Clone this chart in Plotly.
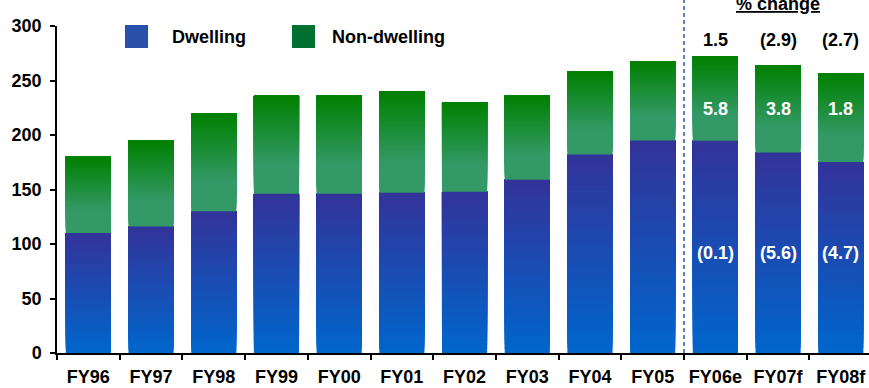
import plotly.graph_objects as go

# Construction activity by financial year (A$bn), split by dwelling / non-dwelling
years = ["FY96", "FY97", "FY98", "FY99", "FY00", "FY01", "FY02",
         "FY03", "FY04", "FY05", "FY06e", "FY07f", "FY08f"]
dwelling = [110, 116, 130, 146, 146, 147, 148, 159, 182, 195, 194.8, 183.9, 175.2]
non_dwelling = [70, 79, 90, 90, 90, 93, 82, 77, 76, 73, 77.2, 80.2, 81.6]

# Percentage changes shown for the estimate / forecast years
pct_years = ["FY06e", "FY07f", "FY08f"]
pct_total = ["1.5", "(2.9)", "(2.7)"]
pct_non_dwelling = ["5.8", "3.8", "1.8"]
pct_dwelling = ["(0.1)", "(5.6)", "(4.7)"]

FONT = "Arial, 'Liberation Sans', Helvetica, sans-serif"
N_SLICES = 40


def mix(c0, c1, t):
    return "rgb({},{},{})".format(*[round(a + (b - a) * t) for a, b in zip(c0, c1)])


def blue_at(f):
    # f: 0 at bar bottom, 1 at bar top
    return mix((0, 102, 204), (51, 51, 153), f)


def green_at(f):
    # light sea-green in the lower part, rich green at the top
    t = max(0.0, (f - 0.3) / 0.7)
    return mix((51, 153, 102), (0, 128, 0), t)


fig = go.Figure()

# Vertical gradient bars: stacked overlays, each slice covering from its
# start up to the top of the bar, so later slices hide the lower ones.
for k in range(N_SLICES):
    f0 = k / N_SLICES
    fig.add_trace(go.Bar(
        x=years,
        base=[d * f0 for d in dwelling],
        y=[d * (1 - f0) for d in dwelling],
        marker=dict(color=blue_at((k + 0.5) / N_SLICES), line=dict(width=0)),
        width=0.72, showlegend=False, hoverinfo="skip",
    ))
for k in range(N_SLICES):
    f0 = k / N_SLICES
    fig.add_trace(go.Bar(
        x=years,
        base=[d + n * f0 for d, n in zip(dwelling, non_dwelling)],
        y=[n * (1 - f0) for n in non_dwelling],
        marker=dict(color=green_at((k + 0.5) / N_SLICES), line=dict(width=0)),
        width=0.72, showlegend=False, hoverinfo="skip",
    ))

annotations = []
for yr, t, nd, d in zip(pct_years, pct_total, pct_non_dwelling, pct_dwelling):
    annotations.append(dict(x=yr, y=287, xref="x", yref="y", text=t, showarrow=False,
                            font=dict(family=FONT, size=18, color="black", weight=700)))
    annotations.append(dict(x=yr, y=224, xref="x", yref="y", text=nd, showarrow=False,
                            font=dict(family=FONT, size=18, color="white", weight=700)))
    annotations.append(dict(x=yr, y=92, xref="x", yref="y", text=d, showarrow=False,
                            font=dict(family=FONT, size=18, color="white", weight=700)))

# Section header over the forecast columns
annotations.append(dict(x="FY07f", y=1.068, xref="x", yref="paper",
                        text="<u>% change</u>", showarrow=False, yanchor="middle",
                        font=dict(family=FONT, size=18, color="black", weight=700)))

# Plot-area geometry (pixels) used to place the hand-made legend
L, R, T, B, W, H = 57, 0, 26, 35, 869, 388
pw, ph = W - L - R, H - T - B


def px_x(x):
    return (x - L) / pw


def px_y(y):
    return (H - B - y) / ph


legend_items = [("Dwelling", "#2850a8", 125, 170), ("Non-dwelling", "#007030", 292, 330)]
shapes = []
for label, col, sx, tx in legend_items:
    shapes.append(dict(type="rect", xref="paper", yref="paper",
                       x0=px_x(sx), x1=px_x(sx + 23), y0=px_y(48), y1=px_y(25),
                       fillcolor=col, line=dict(width=0)))
    annotations.append(dict(x=px_x(tx), y=px_y(37), xref="paper", yref="paper",
                            xanchor="left", yanchor="middle", text=label, showarrow=False,
                            font=dict(family=FONT, size=18, color="black", weight=700)))

# Divider between actuals and estimates / forecasts
shapes.append(dict(type="line", xref="x", yref="paper", x0=9.5, x1=9.5,
                   y0=0, y1=px_y(0), line=dict(color="#3355aa", width=1.5, dash="4px,3px")))

fig.update_layout(
    width=W, height=H,
    margin=dict(l=L, r=R, t=T, b=B, pad=0, autoexpand=False),
    barmode="overlay",
    plot_bgcolor="white", paper_bgcolor="white",
    shapes=shapes, annotations=annotations,
    showlegend=False,
    xaxis=dict(
        range=[-0.5, 12.45], showgrid=False, zeroline=False, automargin=False,
        showline=True, linecolor="black", linewidth=1.5,
        ticks="outside", tickson="boundaries", ticklen=5, tickwidth=1.5, tickcolor="black",
        tickangle=0,
        tickfont=dict(family=FONT, size=18, color="black", weight=700),
        ticklabelstandoff=7,
    ),
    yaxis=dict(
        range=[0, 300], tickvals=[0, 50, 100, 150, 200, 250, 300],
        showgrid=False, zeroline=False, automargin=False,
        showline=True, linecolor="black", linewidth=1.5,
        ticks="outside", ticklen=5, tickwidth=1.5, tickcolor="black",
        tickfont=dict(family=FONT, size=18, color="black", weight=700),
        ticklabelstandoff=5,
    ),
)

fig.write_html("out.html")
